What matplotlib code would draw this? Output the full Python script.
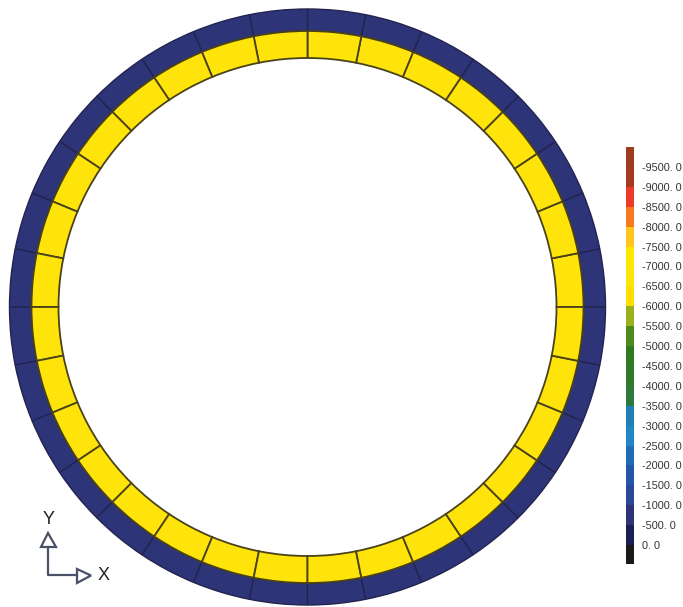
import numpy as np
import matplotlib
matplotlib.use('Agg')
import matplotlib.pyplot as plt
from matplotlib.colors import ListedColormap, BoundaryNorm
from matplotlib.patches import Polygon

plt.rcParams['font.family'] = ['Liberation Sans', 'DejaVu Sans']

# contour levels and band colours, most negative first
levels = [-10000, -9500, -9000, -8500, -8000, -7500, -7000, -6500, -6000, -5500, -5000,
          -4500, -4000, -3500, -3000, -2500, -2000, -1500, -1000, -500, 0, 500]
band_colors = ['#9E3A1E', '#A63A1E', '#EC3B2A', '#F57A1E', '#FFC61E', '#FFE800', '#FFE40C',
               '#FFDD00', '#9BB01E', '#4F8A1E', '#2E7A1E', '#2E7A2A', '#2E7A3C', '#1E80B4',
               '#2086C4', '#1F6CB4', '#2356A6', '#2A4898', '#2E3478', '#1C1F55', '#1A1A1A']
tick_values = [-9500, -9000, -8500, -8000, -7500, -7000, -6500, -6000, -5500, -5000,
               -4500, -4000, -3500, -3000, -2500, -2000, -1500, -1000, -500, 0]

# element values around the ring, 32 elements per layer
outer_values = [-700] * 32
inner_values = [-6800] * 32
outer_radii = (276, 298)
inner_radii = (249, 276)

W, H = 683, 607
cmap = ListedColormap(band_colors)
norm = BoundaryNorm(levels, cmap.N)

fig = plt.figure(figsize=(W / 100, H / 100), dpi=100, facecolor='white')


def px_rect(x0, y0, x1, y1):
    return [x0 / W, 1 - y1 / H, (x1 - x0) / W, (y1 - y0) / H]


# ring, outer layer first so the yellow layer's edges sit on top
ax = fig.add_axes(px_rect(9.5, 9, 605.5, 605), projection='polar')
ax.set_ylim(0, 298)
ax.set_axis_off()
layers = [(outer_values, outer_radii, '#23234F', 1.0), (inner_values, inner_radii, '#4A4218', 1.3)]
for values, (r0, r1), edge, lw in layers:
    n = len(values)
    width = 2 * np.pi / n
    theta = (np.arange(n) + 0.5) * width
    ax.bar(theta, r1 - r0, width=width, bottom=r0, color=cmap(norm(values)),
           edgecolor=edge, linewidth=lw, clip_on=False)

# colour bar
cax = fig.add_axes(px_rect(626, 147, 634, 564))
cax.pcolormesh([0, 1], levels, np.array(levels[:-1]).reshape(-1, 1), cmap=cmap, norm=norm)
cax.set_ylim(475, -10000)
cax.set_xticks([])
cax.yaxis.tick_right()
cax.set_yticks(tick_values)
cax.set_yticklabels(['%d. 0' % v for v in tick_values], fontsize=7.8, color='#333333')
cax.tick_params(axis='y', length=0, pad=5.5)
for s in cax.spines.values():
    s.set_visible(False)

# XY triad in pixel coordinates
tri = fig.add_axes([0, 0, 1, 1], facecolor='none')
tri.set_xlim(0, W)
tri.set_ylim(H, 0)
tri.set_axis_off()
tri_color = '#4A5068'
tri.plot([48, 48, 77], [547, 575, 575], color=tri_color, lw=1.6)
tri.add_patch(Polygon([[48, 533], [41, 547], [56, 547]], closed=True, fc='white', ec=tri_color, lw=1.6))
tri.add_patch(Polygon([[77, 569], [77, 583], [91, 575.5]], closed=True, fc='white', ec=tri_color, lw=1.6))
tri.text(48.5, 520, 'Y', fontsize=13, color='#222222', ha='center', va='center')
tri.text(104, 576, 'X', fontsize=13, color='#222222', ha='center', va='center')

fig.savefig('out.png', dpi=100)
